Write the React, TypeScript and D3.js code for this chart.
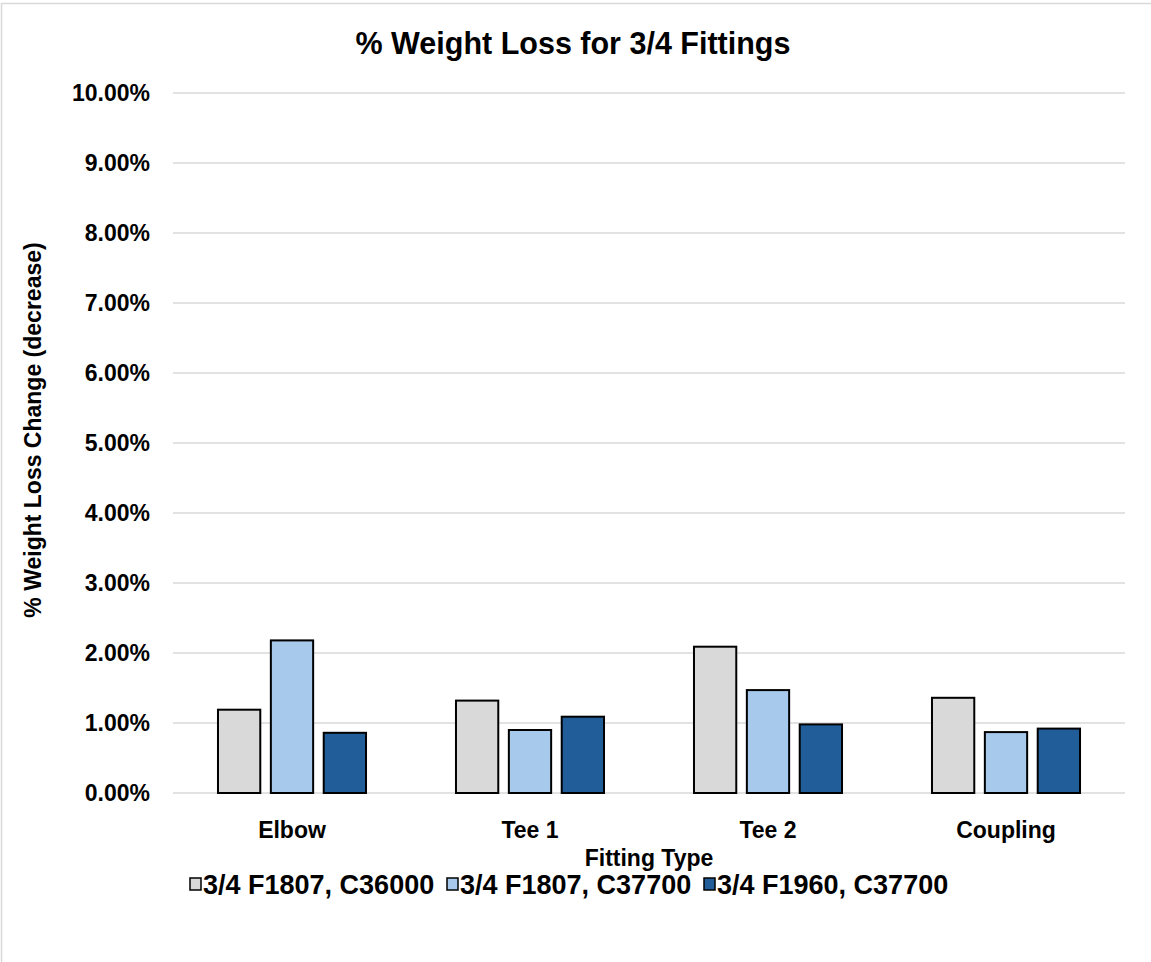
import React from "react";
import * as d3 from "d3";

const categories = ["Elbow", "Tee 1", "Tee 2", "Coupling"];
const seriesNames = ["3/4 F1807, C36000", "3/4 F1807, C37700", "3/4 F1960, C37700"];
const seriesColors = ["#d9d9d9", "#a7c9eb", "#215e99"];
const s1 = [1.19, 1.32, 2.09, 1.36];
const s2 = [2.18, 0.9, 1.47, 0.87];
const s3 = [0.86, 1.09, 0.98, 0.92];
const seriesValues = [s1, s2, s3];
const yTicks = [0, 1, 2, 3, 4, 5, 6, 7, 8, 9, 10];

const W = 1151;
const H = 962;
const FONT = "'Liberation Sans', Arial, sans-serif";

export default function App() {
  const plotLeft = 173;
  const plotRight = 1125;
  const plotTop = 93;
  const plotBottom = 793;

  const y = d3.scaleLinear().domain([0, 10]).range([plotBottom, plotTop]);
  const x0 = d3
    .scaleBand<string>()
    .domain(categories)
    .range([plotLeft, plotRight])
    .paddingInner(0.378)
    .paddingOuter(0.189);
  const x1 = d3
    .scaleBand<number>()
    .domain([0, 1, 2])
    .range([0, x0.bandwidth()])
    .paddingInner(0.2)
    .paddingOuter(0);
  const fmt = (v: number) => v.toFixed(2) + "%";

  const legendStart = 190;
  const legendStep = 257;

  return (
    <svg
      width={W}
      height={H}
      style={{ position: "absolute", left: 0, top: 0, background: "#fff" }}
      fontFamily={FONT}
    >
      <rect x={0} y={0} width={W} height={H} fill="#fff" />
      <rect x={1.5} y={3.5} width={W + 20} height={H + 20} fill="none" stroke="#d9d9d9" strokeWidth={1.5} />
      <text x={573} y={54} textAnchor="middle" fontSize={30.5} fontWeight="bold" fill="#000">
        % Weight Loss for 3/4 Fittings
      </text>
      {yTicks.map((t) => (
        <g key={t}>
          <line x1={plotLeft} x2={plotRight} y1={y(t)} y2={y(t)} stroke="#d9d9d9" strokeWidth={1.5} />
          <text x={150} y={y(t)} dy="0.36em" textAnchor="end" fontSize={23} fontWeight="bold" fill="#000">
            {fmt(t)}
          </text>
        </g>
      ))}
      <text
        transform={`translate(41, 430) rotate(-90)`}
        textAnchor="middle"
        fontSize={23}
        fontWeight="bold"
        fill="#000"
      >
        % Weight Loss Change (decrease)
      </text>
      {categories.map((c, ci) => (
        <g key={c}>
          {seriesValues.map((vals, si) => (
            <rect
              key={si}
              x={(x0(c) as number) + (x1(si) as number)}
              y={y(vals[ci])}
              width={x1.bandwidth()}
              height={plotBottom - y(vals[ci])}
              fill={seriesColors[si]}
              stroke="#000"
              strokeWidth={2}
            />
          ))}
          <text
            x={(x0(c) as number) + x0.bandwidth() / 2}
            y={838}
            textAnchor="middle"
            fontSize={23}
            fontWeight="bold"
            fill="#000"
          >
            {c}
          </text>
        </g>
      ))}
      <text x={(plotLeft + plotRight) / 2} y={866} textAnchor="middle" fontSize={23} fontWeight="bold" fill="#000">
        Fitting Type
      </text>
      {seriesNames.map((n, i) => (
        <g key={n} transform={`translate(${legendStart + i * legendStep}, 0)`}>
          <rect x={0} y={878} width={11} height={12} fill={seriesColors[i]} stroke="#000" strokeWidth={1.5} />
          <text x={13} y={894} fontSize={27} fontWeight="bold" fill="#000">
            {n}
          </text>
        </g>
      ))}
    </svg>
  );
}
